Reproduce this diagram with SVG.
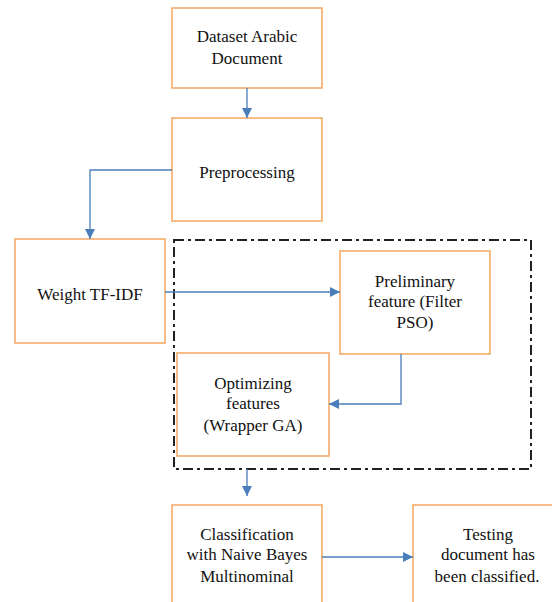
<svg xmlns="http://www.w3.org/2000/svg" width="552" height="602" viewBox="0 0 552 602">
<style>
.box{fill:#fff;stroke:#F5A55E;stroke-width:1.5}
.t{font-size:17px;fill:#111;text-anchor:middle}
.c{fill:none;stroke:#4A7EBB;stroke-width:1.3}
.grp{fill:none;stroke:#222;stroke-width:2;stroke-dasharray:10 4 3 4}
</style>
<defs>
<marker id="ah" viewBox="0 0 10 10" refX="10" refY="5" markerWidth="10" markerHeight="10" markerUnits="userSpaceOnUse" orient="auto">
<path d="M0,0 L10,5 L0,10 z" fill="#4A7EBB"/>
</marker>
</defs>
<rect id="group" class="grp" x="174" y="240" width="357" height="229"/>
<g font-family="Liberation Serif, DejaVu Serif, serif">
<g id="n1"><rect class="box" x="172" y="8" width="150" height="80"/><text class="t" x="247" y="42">Dataset Arabic</text><text class="t" x="247" y="64">Document</text></g>
<g id="n2"><rect class="box" x="172" y="118" width="150" height="103"/><text class="t" x="247" y="178">Preprocessing</text></g>
<g id="n3"><rect class="box" x="15" y="239" width="150" height="104"/><text class="t" x="90" y="300">Weight TF-IDF</text></g>
<g id="n4"><rect class="box" x="340" y="251" width="150" height="103"/><text class="t" x="415" y="287">Preliminary</text><text class="t" x="415" y="307">feature (Filter</text><text class="t" x="415" y="328">PSO)</text></g>
<g id="n5"><rect class="box" x="177" y="353" width="152" height="103"/><text class="t" x="253" y="389">Optimizing</text><text class="t" x="253" y="409">features</text><text class="t" x="253" y="431">(Wrapper GA)</text></g>
<g id="n6"><rect class="box" x="172" y="505" width="150" height="110"/><text class="t" x="247" y="540">Classification</text><text class="t" x="247" y="560">with Naive Bayes</text><text class="t" x="247" y="582">Multinominal</text></g>
<g id="n7"><rect class="box" x="413" y="505" width="150" height="110"/><text class="t" x="488" y="540">Testing</text><text class="t" x="488" y="560">document has</text><text class="t" x="487" y="582">been classified.</text></g>
</g>
<g id="connectors">
<path class="c" d="M247,88 V118" marker-end="url(#ah)"/>
<path class="c" d="M172,170 H90 V239" marker-end="url(#ah)"/>
<path class="c" d="M165,292 H340" marker-end="url(#ah)"/>
<path class="c" d="M401,354 V404 H329" marker-end="url(#ah)"/>
<path class="c" d="M247,469 V496" marker-end="url(#ah)"/>
<path class="c" d="M322,557 H413" marker-end="url(#ah)"/>
</g>
</svg>
